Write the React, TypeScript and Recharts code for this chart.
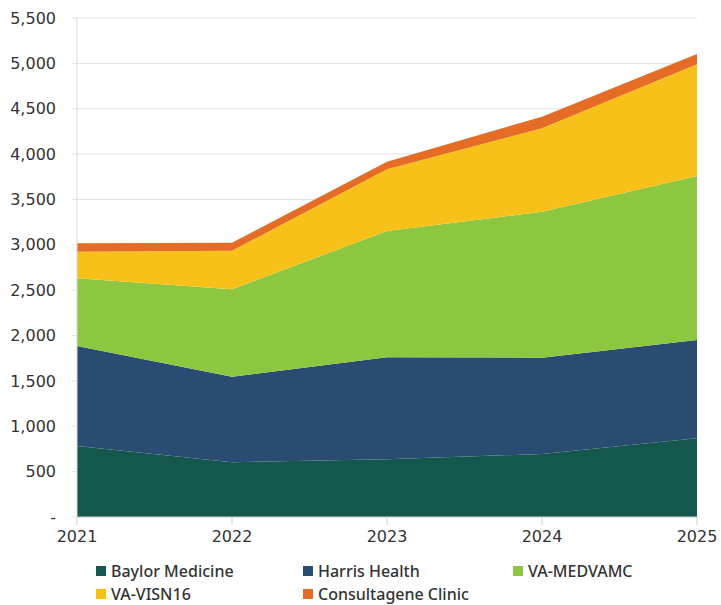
import { AreaChart, Area, CartesianGrid, XAxis, YAxis } from 'recharts';

const years = ['2021', '2022', '2023', '2024', '2025'];
const baylor = [783, 603, 636, 694, 867];
const harris = [1102, 943, 1124, 1062, 1084];
const medvamc = [746, 964, 1392, 1609, 1807];
const visn16 = [293, 425, 680, 919, 1231];
const consultagene = [93, 88, 84, 128, 114];
const yTicks = [0, 500, 1000, 1500, 2000, 2500, 3000, 3500, 4000, 4500, 5000, 5500];

const series = [
  { key: 'baylor', name: 'Baylor Medicine', color: '#14574d' },
  { key: 'harris', name: 'Harris Health', color: '#2b4c72' },
  { key: 'medvamc', name: 'VA-MEDVAMC', color: '#8dc63f' },
  { key: 'visn16', name: 'VA-VISN16', color: '#f8c11a' },
  { key: 'consultagene', name: 'Consultagene Clinic', color: '#e46c25' },
];

const data = years.map((year, i) => ({
  year,
  baylor: baylor[i],
  harris: harris[i],
  medvamc: medvamc[i],
  visn16: visn16[i],
  consultagene: consultagene[i],
}));

const tickStyle = { fontFamily: 'DejaVu Sans', fontSize: 16, fill: '#333333' };

const fmt = (v: number) => (v === 0 ? '-' : v.toLocaleString('en-US'));

// legend positions follow the 3-column layout of the original
const legendPos = [
  { left: 96, top: 562 },
  { left: 303, top: 562 },
  { left: 513, top: 562 },
  { left: 96, top: 585 },
  { left: 303, top: 585 },
];

export default function App() {
  return (
    <div style={{ position: 'absolute', left: 0, top: 0, width: 721, height: 605, background: '#fff', overflow: 'hidden' }}>
      <AreaChart width={721} height={605} data={data} margin={{ top: 18, right: 24, bottom: 58, left: 0 }}>
        <CartesianGrid stroke="#e3e3e3" vertical={false} />
        <XAxis
          dataKey="year"
          tick={tickStyle}
          tickLine={{ stroke: '#d0d0d0' }}
          tickSize={8}
          axisLine={{ stroke: '#d0d0d0' }}
          tickMargin={6}
          height={30}
        />
        <YAxis
          width={77}
          domain={[0, 5500]}
          ticks={yTicks}
          tickFormatter={fmt}
          tick={tickStyle}
          tickLine={{ stroke: '#e3e3e3' }}
          tickSize={5}
          tickMargin={16}
          axisLine={{ stroke: '#d9d9d9' }}
          interval={0}
        />
        {series.map((s) => (
          <Area
            key={s.key}
            type="linear"
            dataKey={s.key}
            name={s.name}
            stackId="1"
            stroke="none"
            fill={s.color}
            fillOpacity={1}
            isAnimationActive={false}
          />
        ))}
      </AreaChart>
      {series.map((s, i) => (
        <div
          key={s.key}
          style={{
            position: 'absolute',
            left: legendPos[i].left,
            top: legendPos[i].top,
            display: 'flex',
            alignItems: 'center',
            fontFamily: 'Noto Sans',
            fontSize: 16,
            lineHeight: '18px',
            fontWeight: 500,
            color: '#333333',
            whiteSpace: 'nowrap',
          }}
        >
          <span style={{ display: 'inline-block', width: 10, height: 10, background: s.color, marginRight: 5 }} />
          {s.name}
        </div>
      ))}
    </div>
  );
}
